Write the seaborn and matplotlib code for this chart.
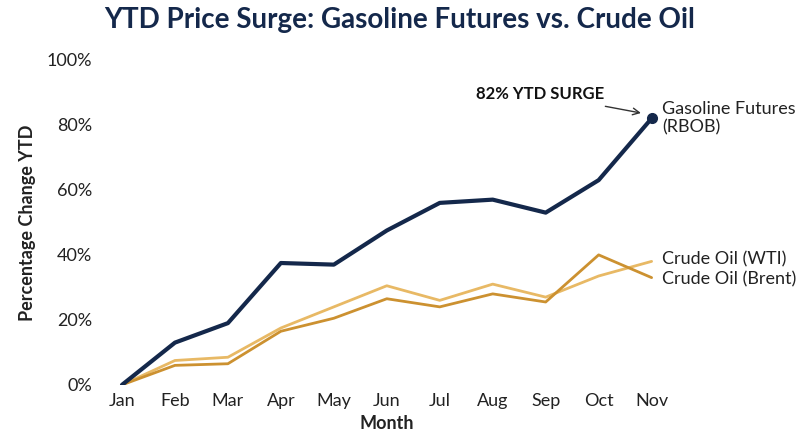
import matplotlib
matplotlib.use("Agg")
import matplotlib.pyplot as plt
import seaborn as sns

# Data (percent change YTD)
months = ["Jan", "Feb", "Mar", "Apr", "May", "Jun", "Jul", "Aug", "Sep", "Oct", "Nov"]
gasoline = [0, 13, 19, 37.5, 37, 47.5, 56, 57, 53, 63, 82]
wti = [0, 7.5, 8.5, 17.5, 24, 30.5, 26, 31, 27, 33.5, 38]
brent = [0, 6, 6.5, 16.5, 20.5, 26.5, 24, 28, 25.5, 40, 33]

sns.set_theme(style="white")
plt.rcParams["font.family"] = ["Lato", "DejaVu Sans"]

fig = plt.figure(figsize=(8, 4.47), dpi=100)
ax = fig.add_axes([0.126, 0.139, 0.715, 0.727])

x = list(range(len(months)))
sns.lineplot(x=x, y=wti, color="#E8B965", lw=2, ax=ax)
sns.lineplot(x=x, y=brent, color="#CC9130", lw=2, ax=ax)
sns.lineplot(x=x, y=gasoline, color="#14284B", lw=3, ax=ax)
ax.plot(x[-1], gasoline[-1], "o", color="#14284B", ms=7)

ax.set_xlim(-0.4, 10.4)
ax.set_ylim(0, 100)
ax.set_xticks(x)
ax.set_xticklabels(months)
ax.set_yticks(range(0, 101, 20))
ax.set_yticklabels([f"{v}%" for v in range(0, 101, 20)])
ax.tick_params(labelsize=13, colors="#222222", length=0, pad=6)
for s in ax.spines.values():
    s.set_visible(False)

ax.set_xlabel("Month", fontsize=13, fontweight="bold", color="#222222", labelpad=4)
ax.set_ylabel("Percentage Change YTD", fontsize=13, fontweight="bold", color="#222222", labelpad=8)
fig.suptitle("YTD Price Surge: Gasoline Futures vs. Crude Oil", fontsize=20,
             fontweight="bold", color="#14284B", y=0.985)

ax.text(10.2, gasoline[-1], "Gasoline Futures\n(RBOB)", fontsize=13, va="center",
        color="#222222", clip_on=False)
ax.text(10.2, wti[-1] + 0.5, "Crude Oil (WTI)", fontsize=13, va="center", color="#222222", clip_on=False)
ax.text(10.2, brent[-1] - 0.5, "Crude Oil (Brent)", fontsize=13, va="center", color="#222222", clip_on=False)

ax.annotate("82% YTD SURGE", xy=(x[-1] - 0.15, gasoline[-1] + 1.5), xytext=(9.1, 89.5),
            fontsize=12, fontweight="bold", color="#111111", ha="right", va="center",
            arrowprops=dict(arrowstyle="->", color="#333333", lw=1, shrinkA=4))

fig.savefig("out.png", dpi=100)
